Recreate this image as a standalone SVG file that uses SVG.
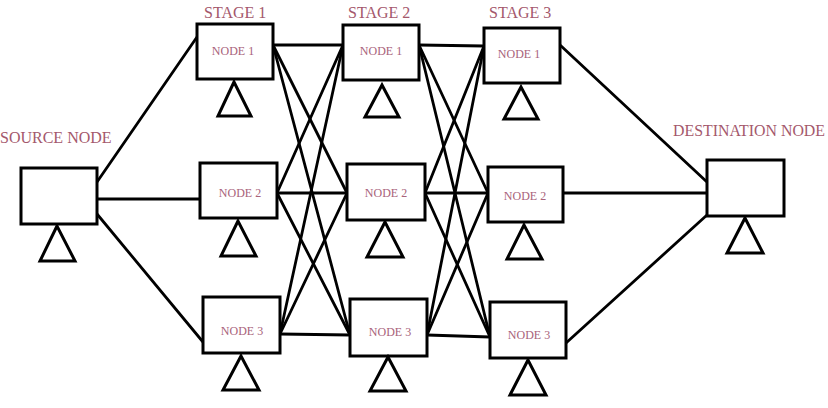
<svg xmlns="http://www.w3.org/2000/svg" width="828" height="408" viewBox="0 0 828 408">
<style>
.box{fill:#fff;stroke:#000;stroke-width:3}
.tri{fill:#fff;stroke:#000;stroke-width:3;stroke-linejoin:miter}
.ln{stroke:#000;stroke-width:2.8;stroke-linecap:round}
.title{font-family:"Liberation Serif","Times New Roman",serif;font-size:16px;fill:#a4586c}
.lbl{font-family:"Liberation Serif","Times New Roman",serif;font-size:12px;fill:#a8627a;text-anchor:middle}
</style>
<rect width="828" height="408" fill="#fff"/>
<g id="connectors">
<line class="ln" x1="97" y1="182" x2="197" y2="37"/>
<line class="ln" x1="97" y1="199" x2="200" y2="199"/>
<line class="ln" x1="97" y1="214" x2="203" y2="342"/>
<line class="ln" x1="273" y1="45" x2="343" y2="45"/>
<line class="ln" x1="273" y1="45" x2="347" y2="193"/>
<line class="ln" x1="273" y1="45" x2="350" y2="335"/>
<line class="ln" x1="277" y1="193" x2="343" y2="45"/>
<line class="ln" x1="277" y1="193" x2="347" y2="193"/>
<line class="ln" x1="277" y1="193" x2="350" y2="335"/>
<line class="ln" x1="280" y1="334" x2="343" y2="45"/>
<line class="ln" x1="280" y1="334" x2="347" y2="193"/>
<line class="ln" x1="280" y1="334" x2="350" y2="335"/>
<line class="ln" x1="419" y1="45" x2="484" y2="46"/>
<line class="ln" x1="419" y1="45" x2="488" y2="193"/>
<line class="ln" x1="419" y1="45" x2="490" y2="337"/>
<line class="ln" x1="425" y1="193" x2="484" y2="46"/>
<line class="ln" x1="425" y1="193" x2="488" y2="193"/>
<line class="ln" x1="425" y1="193" x2="490" y2="337"/>
<line class="ln" x1="427" y1="335" x2="484" y2="46"/>
<line class="ln" x1="427" y1="335" x2="488" y2="193"/>
<line class="ln" x1="427" y1="335" x2="490" y2="337"/>
<line class="ln" x1="560" y1="45" x2="707" y2="182"/>
<line class="ln" x1="563" y1="193" x2="707" y2="193"/>
<line class="ln" x1="566" y1="343" x2="707" y2="215"/>
</g>
<g id="source">
<rect class="box" x="21" y="168" width="76" height="56"/>
<polygon class="tri" points="57,226 40,261 75,261"/>
<text class="title" x="0" y="143">SOURCE NODE</text>
</g>
<g id="s1n1">
<rect class="box" x="197" y="24" width="76" height="55"/>
<polygon class="tri" points="234,82 218,116 251,116"/>
<text class="title" x="204" y="18">STAGE 1</text>
<text class="lbl" x="233" y="55">NODE 1</text>
</g>
<g id="s1n2">
<rect class="box" x="200" y="163" width="77" height="55"/>
<polygon class="tri" points="238,221 221,256 256,256"/>
<text class="lbl" x="240" y="197">NODE 2</text>
</g>
<g id="s1n3">
<rect class="box" x="203" y="297" width="77" height="56"/>
<polygon class="tri" points="241,356 223,390 259,390"/>
<text class="lbl" x="242" y="335">NODE 3</text>
</g>
<g id="s2n1">
<rect class="box" x="343" y="25" width="76" height="55"/>
<polygon class="tri" points="382,85 365,117 399,117"/>
<text class="title" x="348" y="18">STAGE 2</text>
<text class="lbl" x="381" y="55">NODE 1</text>
</g>
<g id="s2n2">
<rect class="box" x="347" y="164" width="78" height="56"/>
<polygon class="tri" points="385,222 367,257 403,257"/>
<text class="lbl" x="386" y="197">NODE 2</text>
</g>
<g id="s2n3">
<rect class="box" x="350" y="299" width="77" height="57"/>
<polygon class="tri" points="388,357 370,391 406,391"/>
<text class="lbl" x="390" y="336">NODE 3</text>
</g>
<g id="s3n1">
<rect class="box" x="484" y="28" width="76" height="55"/>
<polygon class="tri" points="521,87 504,119 538,119"/>
<text class="title" x="489" y="18">STAGE 3</text>
<text class="lbl" x="519" y="58">NODE 1</text>
</g>
<g id="s3n2">
<rect class="box" x="488" y="167" width="75" height="55"/>
<polygon class="tri" points="524,225 507,259 542,259"/>
<text class="lbl" x="525" y="200">NODE 2</text>
</g>
<g id="s3n3">
<rect class="box" x="490" y="302" width="76" height="56"/>
<polygon class="tri" points="528,360 510,395 546,395"/>
<text class="lbl" x="529" y="339">NODE 3</text>
</g>
<g id="destination">
<rect class="box" x="707" y="160" width="77" height="56"/>
<polygon class="tri" points="745,218 727,253 763,253"/>
<text class="title" x="673" y="136" textLength="152" lengthAdjust="spacingAndGlyphs">DESTINATION NODE</text>
</g>
</svg>
